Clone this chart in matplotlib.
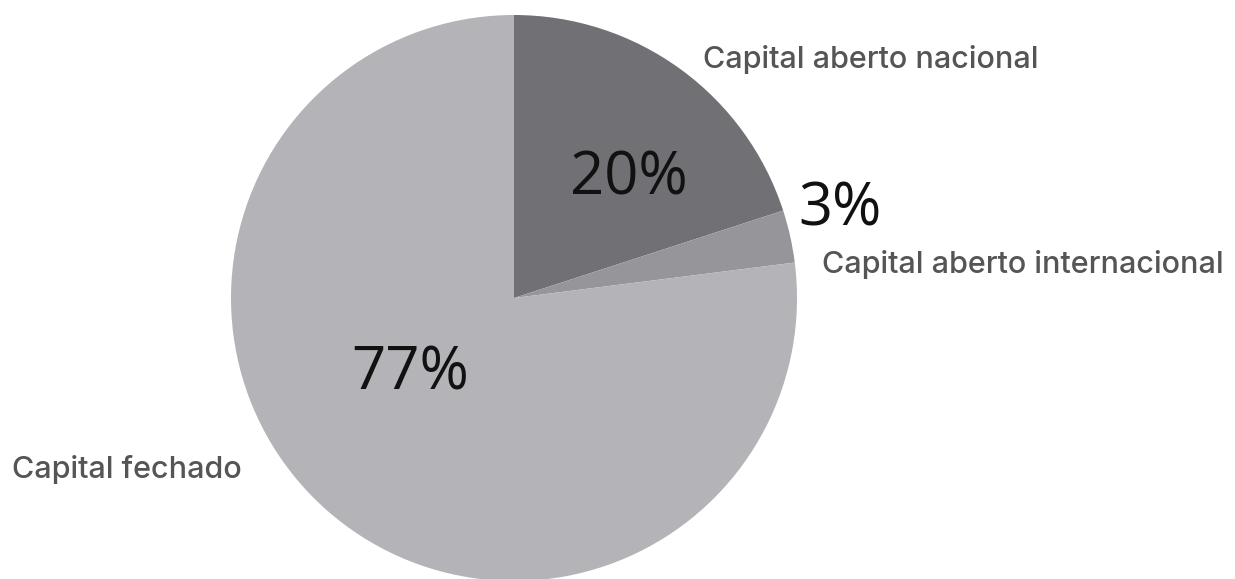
import matplotlib.pyplot as plt

labels = ['Capital aberto nacional', 'Capital aberto internacional', 'Capital fechado']
values = [20, 3, 77]
pct_text = ['20%', '3%', '77%']
colors = ['#717175', '#96969a', '#b4b4b8']

W, H = 1235, 579
fig = plt.figure(figsize=(W / 100, H / 100), dpi=100)

# pie centre (514, 298) px from top-left, radius 283 px
cx, cy, r = 514, 298, 283
ax = fig.add_axes([(cx - r) / W, (H - cy - r) / H, 2 * r / W, 2 * r / H])
ax.pie(values, colors=colors, startangle=90, counterclock=False,
       radius=1, wedgeprops=dict(linewidth=0))
ax.set_xlim(-1, 1)
ax.set_ylim(-1, 1)
ax.set_aspect('equal')
ax.axis('off')

def px(x, y):
    return x / W, 1 - y / H

# percentage labels
pct_pos = [(629, 178), (840, 210), (410, 374)]
for t, (x, y) in zip(pct_text, pct_pos):
    fig.text(*px(x, y), t, fontsize=43, family='Open Sans', fontweight='normal',
             color='#111111', ha='center', va='center')

# category labels
lab_pos = [(703, 60), (822, 264), (12, 470)]
for t, (x, y) in zip(labels, lab_pos):
    fig.text(*px(x, y), t, fontsize=22, family='Inter', fontweight='medium',
             color='#555555', ha='left', va='center')

fig.savefig('out.png', dpi=100)
